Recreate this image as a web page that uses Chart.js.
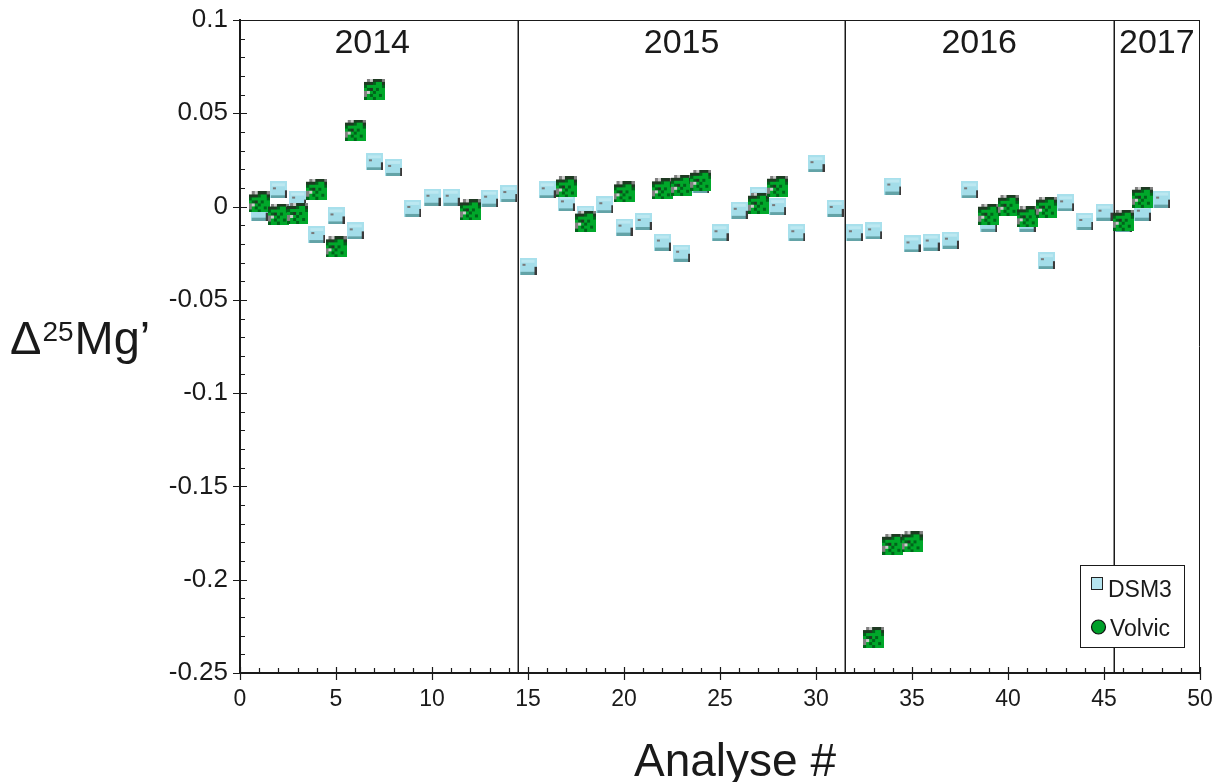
<!DOCTYPE html>
<html>
<head>
<meta charset="utf-8">
<script src="https://cdn.jsdelivr.net/npm/chart.js@4.4.1/dist/chart.umd.min.js"></script>
<style>
  html, body { margin: 0; padding: 0; background: #ffffff; }
  #wrap { width: 1214px; height: 782px; position: relative; }
</style>
</head>
<body>
<div id="wrap"><canvas id="c" width="1214" height="782"></canvas></div>
<script>
// ---- Data ----
const dsm3X = [1,2,3,4,5,6,7,8,9,10,11,13,14,15,16,17,18,19,20,21,22,23,24,25,26,27,28,29,30,31,32,33,34,35,36,37,38,39,41,42,43,44,45,46,47,48];
const dsm3Y = [-0.003,0.009,0.004,-0.015,-0.005,-0.013,0.024,0.021,-0.001,0.005,0.005,0.0045,0.007,-0.032,0.009,0.002,-0.004,0.001,-0.011,-0.008,-0.019,-0.025,0.012,-0.014,-0.002,0.006,0.0,-0.014,0.023,-0.001,-0.014,-0.013,0.011,-0.020,-0.019,-0.018,0.009,-0.009,-0.009,-0.029,0.002,-0.008,-0.003,-0.009,-0.003,0.004];
const volvicX = [1,2,3,4,5,6,7,12,17,18,20,22,23,24,27,28,33,34,35,39,40,41,42,46,47];
const volvicY = [0.0025,-0.004,-0.0037,0.0093,-0.0216,0.041,0.0628,-0.0018,0.0105,-0.0078,0.0079,0.0095,0.0114,0.0141,0.0018,0.0109,-0.231,-0.181,-0.1797,-0.0041,0.0007,-0.0055,-0.0003,-0.0073,0.005];
const years = ['2014','2015','2016','2017'];
const yearBounds = [14.5, 31.5, 45.5];
const xTickLabels = ['0','5','10','15','20','25','30','35','40','45','50'];
const yTickLabels = ['-0.25','-0.2','-0.15','-0.1','-0.05','0','0.05','0.1'];
const seriesNames = ['DSM3','Volvic'];

// ---- Marker images ----
function makeDsmMarker() {
  const c = document.createElement('canvas'); c.width = 17; c.height = 17;
  const g = c.getContext('2d');
  g.fillStyle = '#a8e0ec'; g.fillRect(0, 0, 17, 17);
  g.fillStyle = '#bce8f1'; g.fillRect(2, 2, 13, 3);
  g.fillStyle = '#a3dde9'; g.fillRect(2, 5, 13, 9);
  g.fillStyle = '#63a3a7'; g.fillRect(1, 14, 14, 3);
  g.fillStyle = '#3a3a3a'; g.fillRect(15, 9, 2, 8);
  g.fillStyle = '#787878'; g.fillRect(3, 6, 3, 2);
  return c;
}
function makeVolvicMarker() {
  const pattern = [
    '.glDDDg',
    'DDDdGGD',
    'dGGGGGd',
    'GdDGdGG',
    'glGdGGG',
    'gGdGGdG',
    'dGGdGGG'
  ];
  const cols = { G: '#00a82a', D: '#1e3a22', d: '#00641a', g: '#808080', l: '#cccccc' };
  const s = 3;
  const c = document.createElement('canvas'); c.width = 7 * s; c.height = 7 * s;
  const g = c.getContext('2d');
  pattern.forEach((row, r) => {
    [...row].forEach((ch, k) => {
      if (cols[ch]) { g.fillStyle = cols[ch]; g.fillRect(k * s, r * s, s, s); }
    });
  });
  return c;
}
const dsmImg = makeDsmMarker();
const volImg = makeVolvicMarker();

const FONT = '"Liberation Sans", Arial, Helvetica, sans-serif';
const INK = '#1a1a1a';

const decor = {
  id: 'decor',
  beforeDatasetsDraw(chart) {
    const { ctx, chartArea: a, scales: { x, y } } = chart;
    ctx.save();
    ctx.strokeStyle = INK;
    ctx.lineWidth = 1;
    ctx.beginPath();
    ctx.moveTo(a.left, a.top + 0.5); ctx.lineTo(a.right, a.top + 0.5);
    ctx.moveTo(a.right - 0.5, a.top); ctx.lineTo(a.right - 0.5, a.bottom);
    ctx.stroke();
    ctx.lineWidth = 1.5;
    yearBounds.forEach(b => {
      const px = Math.round(x.getPixelForValue(b)) + 0.25;
      ctx.beginPath(); ctx.moveTo(px, a.top); ctx.lineTo(px, a.bottom); ctx.stroke();
    });
    ctx.lineWidth = 1.2;
    ctx.beginPath();
    for (let i = 0; i <= 35; i++) {
      const v = -0.25 + i * 0.01;
      const py = Math.round(y.getPixelForValue(v)) + 0.5;
      if (i % 5 === 0) { ctx.moveTo(a.left - 7, py); ctx.lineTo(a.left + 7, py); }
      else { ctx.moveTo(a.left, py); ctx.lineTo(a.left + 5, py); }
    }
    for (let i = 0; i <= 50; i++) {
      const px = Math.round(x.getPixelForValue(i)) + 0.5;
      if (i % 5 === 0) { ctx.moveTo(px, a.bottom - 6); ctx.lineTo(px, a.bottom + 7); }
      else { ctx.moveTo(px, a.bottom - 5); ctx.lineTo(px, a.bottom); }
    }
    ctx.stroke();
    ctx.fillStyle = INK;
    ctx.font = '34px ' + FONT;
    ctx.textAlign = 'center';
    ctx.textBaseline = 'alphabetic';
    const edges = [x.min, ...yearBounds, x.max];
    years.forEach((yr, i) => {
      const cx = (x.getPixelForValue(edges[i]) + x.getPixelForValue(edges[i + 1])) / 2;
      ctx.fillText(yr, cx - (i === 0 ? 7 : 0), 53);
    });
    ctx.restore();
  },
  afterDraw(chart) {
    const { ctx } = chart;
    ctx.save();
    ctx.fillStyle = INK;
    ctx.textBaseline = 'alphabetic';
    ctx.textAlign = 'left';
    ctx.font = '47px ' + FONT;
    let tx = 10;
    ctx.fillText('Δ', tx, 354);
    tx += ctx.measureText('Δ').width + 1;
    ctx.font = '28px ' + FONT;
    ctx.fillText('25', tx, 341);
    tx += ctx.measureText('25').width + 1;
    ctx.font = '47px ' + FONT;
    ctx.fillText('Mg’', tx, 354);
    ctx.textAlign = 'center';
    ctx.font = '46px ' + FONT;
    ctx.fillText('Analyse #', 735, 776);
    const lx = 1080.5, ly = 565.5, lw = 104, lh = 82;
    ctx.fillStyle = '#ffffff';
    ctx.fillRect(lx, ly, lw, lh);
    ctx.strokeStyle = INK; ctx.lineWidth = 1;
    ctx.strokeRect(lx, ly, lw, lh);
    ctx.fillStyle = '#b5e4ef';
    ctx.fillRect(1091.5, 577.5, 11, 12);
    ctx.strokeStyle = '#222'; ctx.strokeRect(1091.5, 577.5, 11, 12);
    ctx.beginPath(); ctx.arc(1098.5, 627, 7, 0, Math.PI * 2);
    ctx.fillStyle = '#00a02a'; ctx.fill(); ctx.strokeStyle = '#111'; ctx.lineWidth = 1.2; ctx.stroke();
    ctx.fillStyle = INK;
    ctx.textAlign = 'left';
    ctx.font = '23px ' + FONT;
    ctx.fillText(seriesNames[0], 1108, 597);
    ctx.fillText(seriesNames[1], 1110, 636);
    ctx.restore();
  }
};

const findLabel = (arr, v) => {
  const m = arr.find(l => Math.abs(parseFloat(l) - v) < 1e-9);
  return m === undefined ? '' : m;
};

new Chart(document.getElementById('c'), {
  type: 'scatter',
  data: {
    datasets: [
      {
        label: seriesNames[1],
        data: volvicX.map((vx, i) => ({ x: vx, y: volvicY[i] })),
        pointStyle: volImg, pointRadius: 10, order: 0
      },
      {
        label: seriesNames[0],
        data: dsm3X.map((vx, i) => ({ x: vx, y: dsm3Y[i] })),
        pointStyle: dsmImg, pointRadius: 9, order: 1
      }
    ]
  },
  options: {
    responsive: false,
    animation: false,
    devicePixelRatio: 1,
    layout: { padding: { left: 0, right: 14, top: 20, bottom: 0 } },
    plugins: { legend: { display: false }, tooltip: { enabled: false } },
    scales: {
      x: {
        type: 'linear', min: 0, max: 50,
        ticks: { stepSize: 5, color: INK, font: { family: FONT, size: 23 }, padding: 13,
                 maxRotation: 0, autoSkip: false,
                 callback: v => findLabel(xTickLabels, v) },
        grid: { display: false, drawTicks: false },
        border: { display: true, color: INK, width: 2 },
        afterFit: s => { s.height = 109; s.paddingLeft = 0; s.paddingRight = 0; }
      },
      y: {
        type: 'linear', min: -0.25, max: 0.1,
        ticks: { stepSize: 0.05, color: INK, font: { family: FONT, size: 26 }, padding: 12,
                 autoSkip: false,
                 callback: v => findLabel(yTickLabels, v) },
        grid: { display: false, drawTicks: false },
        border: { display: true, color: INK, width: 2 },
        afterFit: s => { s.width = 240; s.paddingTop = 0; s.paddingBottom = 0; }
      }
    }
  },
  plugins: [decor]
});
</script>
</body>
</html>
